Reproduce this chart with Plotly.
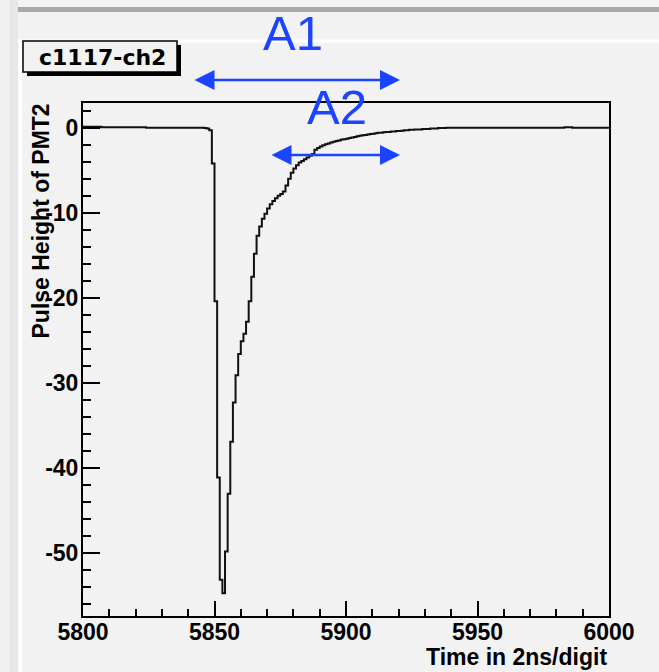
import numpy as np
import plotly.graph_objects as go

# ---------------- data ----------------
bin_start = 5800          # first bin low edge, 1 unit per bin (2 ns/digit)
pulse_values = [
    # 5800-5819
    0.1, 0.1, 0.1, 0.1, 0.1, 0.1, 0.1, 0.05, 0.05, 0.05,
    0.05, 0.05, 0.05, 0.05, 0.05, 0.05, 0.05, 0.05, 0.05, 0.05,
    # 5820-5839
    0.05, 0.05, 0.05, 0.05, 0.0, 0.0, 0.0, 0.0, 0.0, 0.0,
    0.0, 0.0, 0.0, 0.0, 0.0, 0.0, 0.0, 0.0, 0.0, 0.0,
    # 5840-5859
    0.0, 0.0, 0.0, 0.0, 0.0, 0.0, -0.05, -0.1, -0.3, -4.2,
    -20.4, -41.1, -53.1, -54.7, -49.8, -43.0, -36.9, -32.3, -29.1, -26.6,
    # 5860-5879
    -25.1, -24.2, -22.8, -20.4, -17.5, -14.8, -12.7, -11.6, -10.7, -10.1,
    -9.5, -9.0, -8.6, -8.3, -8.0, -7.8, -7.5, -6.8, -6.0, -5.3,
    # 5880-5899
    -4.8, -4.4, -4.1, -3.9, -3.7, -3.5, -3.3, -3.1, -2.6, -2.4,
    -2.2, -2.05, -1.95, -1.85, -1.75, -1.65, -1.55, -1.5, -1.4, -1.35,
    # 5900-5919
    -1.3, -1.2, -1.15, -1.1, -1.0, -0.95, -0.9, -0.85, -0.8, -0.75,
    -0.7, -0.65, -0.6, -0.6, -0.55, -0.5, -0.5, -0.45, -0.45, -0.4,
    # 5920-5939
    -0.4, -0.35, -0.3, -0.3, -0.25, -0.25, -0.2, -0.2, -0.2, -0.15,
    -0.15, -0.15, -0.1, -0.1, -0.1, -0.05, -0.05, -0.05, 0.0, 0.0,
    # 5940-5959
    0.0, 0.0, 0.0, 0.0, 0.0, 0.0, 0.0, 0.0, 0.0, 0.0,
    0.0, 0.0, 0.0, 0.0, 0.0, 0.0, 0.0, 0.0, 0.0, 0.0,
    # 5960-5979
    0.0, 0.0, 0.0, 0.0, 0.0, 0.0, 0.0, 0.0, 0.0, 0.0,
    0.0, 0.0, 0.0, 0.0, 0.0, 0.0, 0.0, 0.0, 0.0, 0.0,
    # 5980-5999
    0.0, 0.0, 0.0, 0.05, 0.05, 0.05, 0.0, 0.0, 0.0, 0.0,
    0.0, 0.0, 0.0, 0.0, 0.0, 0.0, 0.0, 0.0, 0.0, 0.0,
]
x_ticks = [5800, 5850, 5900, 5950, 6000]
y_ticks = [0, -10, -20, -30, -40, -50]
x_range = [5800, 6000]
y_range = [-57.37, 2.9]

hist_title = "c1117-ch2"
x_title = "Time in 2ns/digit"
y_title = "Pulse Height of PMT2"
marker_texts = ["A1", "A2"]

# ---------------- figure ----------------
W, H = 659, 672
PL, PR, PT, PB = 83, 609, 103, 616


def px(x):
    return (x - PL) / (PR - PL)


def py(y):
    return (PB - y) / (PB - PT)


edges = bin_start + np.arange(len(pulse_values) + 1)
yvals = list(pulse_values) + [pulse_values[-1]]

fig = go.Figure()
fig.add_trace(go.Scatter(
    x=edges, y=yvals, mode="lines", line_shape="hv",
    line=dict(color="#111111", width=2), hoverinfo="skip", showlegend=False,
))

bg = "#f2f2f2"
tickfont = dict(family="Liberation Sans", size=23, color="black", weight="bold")

fig.update_layout(
    width=W, height=H,
    margin=dict(l=PL, r=W - PR, t=PT, b=H - PB, pad=0),
    paper_bgcolor=bg, plot_bgcolor=bg,
    showlegend=False,
    xaxis=dict(
        range=x_range, tickvals=x_ticks, ticktext=[str(v) for v in x_ticks],
        ticks="inside", ticklen=15, tickwidth=2, tickcolor="black",
        minor=dict(dtick=10, ticks="inside", ticklen=7, tickwidth=2, tickcolor="black"),
        showline=True, linewidth=2, linecolor="black", mirror=True,
        showgrid=False, zeroline=False, tickfont=tickfont,
        ticklabelstandoff=-6,
    ),
    yaxis=dict(
        range=y_range, tickvals=y_ticks, ticktext=[str(v) for v in y_ticks],
        ticks="inside", ticklen=17, tickwidth=2, tickcolor="black",
        minor=dict(dtick=2, ticks="inside", ticklen=8, tickwidth=2, tickcolor="black"),
        showline=True, linewidth=2, linecolor="black", mirror=True,
        showgrid=False, zeroline=False, tickfont=tickfont,
        ticklabelstandoff=-2,
    ),
)

shapes = []


def rect(x0, y0, x1, y1, fill, layer="below", line=None):
    d = dict(type="rect", xref="paper", yref="paper",
             x0=px(x0), x1=px(x1), y0=py(y1), y1=py(y0),
             fillcolor=fill, layer=layer,
             line=line if line else dict(width=0))
    shapes.append(d)


# window chrome
rect(0, 0, 10, 672, "#efefef")
rect(10, 0, 18, 672, "#e7e7e7")
rect(18, 0, 659, 7, "#f4f4f4")
rect(18, 7, 659, 12, "#a9a9a9")
rect(18, 39.5, 659, 42.5, "#ffffff")
rect(18.5, 39.5, 22, 672, "#ffffff")
# title box with shadow
rect(27, 45, 181, 76, "#000000", layer="above")
rect(23, 41, 177, 72, bg, layer="above", line=dict(color="black", width=1.5))
fig.update_layout(shapes=shapes)

blue = "#1a44ff"
ann = []
ann.append(dict(text=hist_title, x=px(102), y=py(58), xref="paper", yref="paper",
                showarrow=False, xanchor="center", yanchor="middle",
                font=dict(family="DejaVu Sans", size=22, color="black", weight="bold")))
ann.append(dict(text=y_title, x=px(41), y=py(102), xref="paper", yref="paper",
                showarrow=False, textangle=-90, xanchor="center", yanchor="top",
                font=dict(family="Liberation Sans", size=23, color="black", weight="bold")))
ann.append(dict(text=x_title, x=px(609), y=py(657), xref="paper", yref="paper",
                showarrow=False, xanchor="right", yanchor="middle",
                font=dict(family="Liberation Sans", size=23, color="black", weight="bold")))
ann.append(dict(text=marker_texts[0], x=px(293), y=py(33), xref="paper", yref="paper",
                showarrow=False, xanchor="center", yanchor="middle",
                font=dict(family="Liberation Sans", size=49, color=blue)))
ann.append(dict(text=marker_texts[1], x=px(337), y=py(107), xref="paper", yref="paper",
                showarrow=False, xanchor="center", yanchor="middle",
                font=dict(family="Liberation Sans", size=49, color=blue)))
# double arrows
for (xa, xb, yy) in [(193, 400, 80), (270, 400, 155)]:
    ann.append(dict(text="", x=px(xb), y=py(yy), xref="paper", yref="paper",
                    ax=xa - xb, ay=0, showarrow=True, arrowhead=2, startarrowhead=2,
                    arrowside="end+start", arrowsize=1.6, startarrowsize=1.6,
                    arrowwidth=2.5, arrowcolor=blue))
fig.update_layout(annotations=ann)

fig.write_html("out.html")
